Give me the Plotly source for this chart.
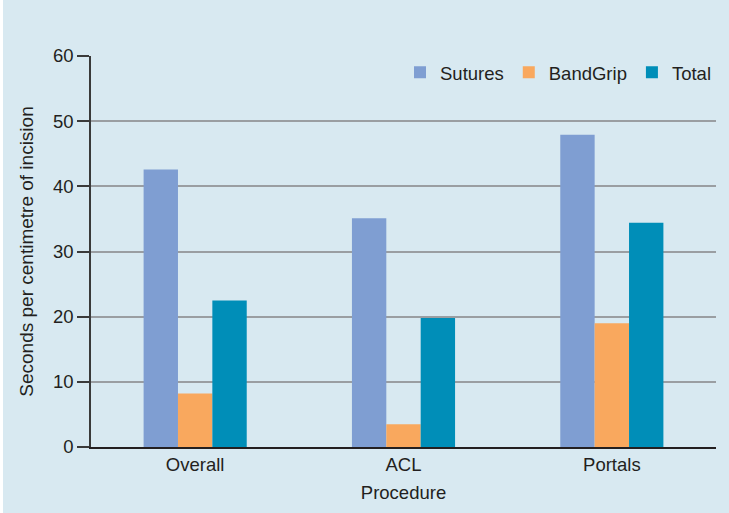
import plotly.graph_objects as go

categories = ["Overall", "ACL", "Portals"]
sutures = [42.6, 35.1, 47.9]
bandgrip = [8.2, 3.5, 19.0]
total = [22.5, 19.8, 34.4]
y_ticks = [0, 10, 20, 30, 40, 50, 60]

BG = "#D8E9F1"
FONT = "Liberation Sans, Arial, sans-serif"
FS = 18.5

fig = go.Figure()
fig.add_trace(go.Bar(name="Sutures", x=categories, y=sutures, marker=dict(color="#7F9ED2", line=dict(width=0))))
fig.add_trace(go.Bar(name="BandGrip", x=categories, y=bandgrip, marker=dict(color="#F9A85E", line=dict(width=0))))
fig.add_trace(go.Bar(name="Total", x=categories, y=total, marker=dict(color="#008EB8", line=dict(width=0))))

fig.update_layout(
    width=729, height=513,
    margin=dict(l=91, r=13, t=56, b=66, autoexpand=False),
    paper_bgcolor=BG, plot_bgcolor=BG,
    font=dict(family=FONT, size=FS, color="#231F20"),
    barmode="group", bargap=0.505, bargroupgap=0,
    showlegend=True,
    legend=dict(orientation="h", x=1.0, xanchor="right", y=0.957, yanchor="middle",
                bgcolor="rgba(0,0,0,0)", font=dict(family=FONT, size=FS),
                tracegroupgap=0),
    xaxis=dict(
        title=dict(text="Procedure", standoff=12, font=dict(family=FONT, size=FS)),
        tickfont=dict(family=FONT, size=FS),
        showline=True, linecolor="#231F20", linewidth=1.5,
        ticks="", showgrid=False,
    ),
    yaxis=dict(
        title=dict(text="Seconds per centimetre of incision", standoff=14, font=dict(family=FONT, size=19)),
        tickfont=dict(family=FONT, size=FS),
        range=[0, 60], tickvals=y_ticks,
        showline=True, linecolor="#3a3a3a", linewidth=1.5,
        ticks="outside", ticklen=12, tickwidth=1.5, tickcolor="#3a3a3a",
        showgrid=True, gridcolor="#9a9ea2", gridwidth=1.5,
        zeroline=False,
    ),
)

# thin white strip at left edge of image
fig.add_shape(type="rect", xref="paper", yref="paper",
              x0=-91/625, x1=-88/625, y0=-66/391, y1=(513-66)/391,
              fillcolor="white", line=dict(width=0), layer="below")

fig.write_html("out.html")
